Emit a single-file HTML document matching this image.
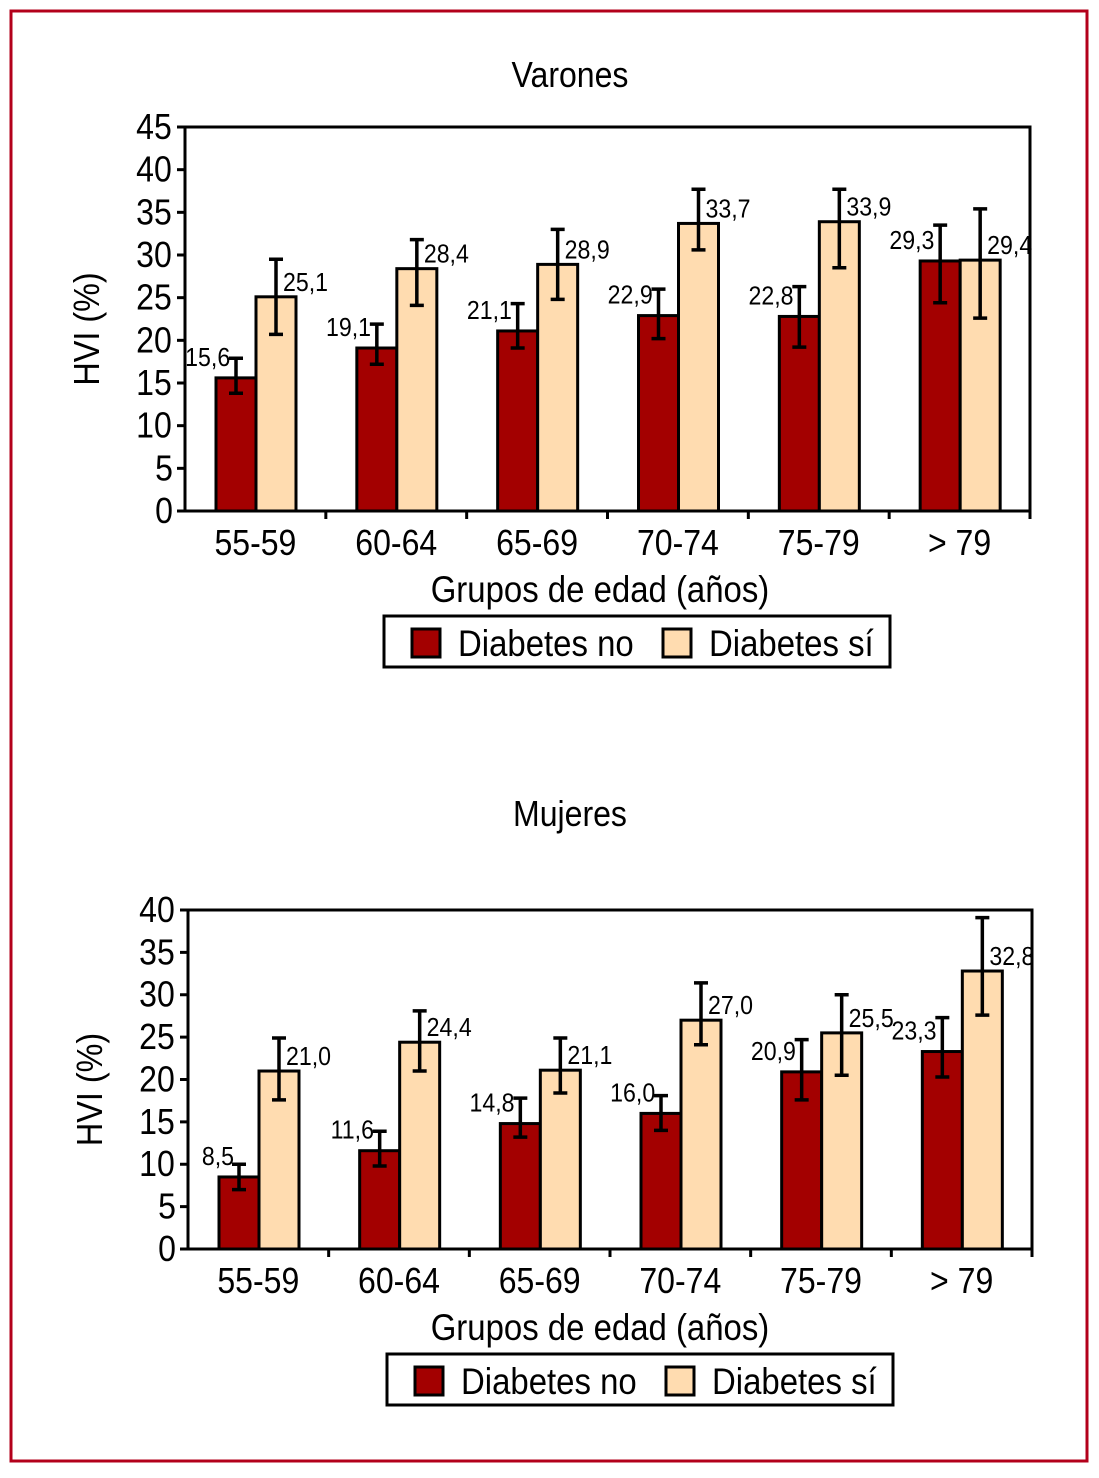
<!DOCTYPE html>
<html><head><meta charset="utf-8"><style>
html,body{margin:0;padding:0;background:#fff}
svg text{font-family:"Liberation Sans",sans-serif;fill:#000}
.c{transform-box:fill-box;transform-origin:center;transform:scaleX(0.89)}
.l{transform-box:fill-box;transform-origin:left center;transform:scaleX(0.89)}
</style></head><body>
<svg id="s" width="1099" height="1473" viewBox="0 0 1099 1473" xmlns="http://www.w3.org/2000/svg">
<rect x="11" y="11" width="1076" height="1450" fill="none" stroke="#b3001b" stroke-width="3"/>
</svg>
<script>
const categories=["55-59","60-64","65-69","70-74","75-79","> 79"];
const topNo=[15.6,19.1,21.1,22.9,22.8,29.3];
const topYes=[25.1,28.4,28.9,33.7,33.9,29.4];
const topNoLo=[13.8,17.2,19.1,20.2,19.2,24.4];
const topNoHi=[17.9,21.9,24.3,26.0,26.3,33.5];
const topYesLo=[20.7,24.1,24.8,30.6,28.5,22.6];
const topYesHi=[29.5,31.8,33.0,37.7,37.7,35.4];
const topTicks=[0,5,10,15,20,25,30,35,40,45];
const botNo=[8.5,11.6,14.8,16.0,20.9,23.3];
const botYes=[21.0,24.4,21.1,27.0,25.5,32.8];
const botNoLo=[7.0,9.8,13.2,14.0,17.6,20.3];
const botNoHi=[10.0,13.9,17.8,18.1,24.7,27.3];
const botYesLo=[17.6,21.0,18.4,24.1,20.5,27.6];
const botYesHi=[24.9,28.1,24.9,31.4,30.0,39.1];
const botTicks=[0,5,10,15,20,25,30,35,40];

const svg=document.getElementById('s');
const NS="http://www.w3.org/2000/svg";
function mk(tag,attrs,parent){const e=document.createElementNS(NS,tag);for(const k in attrs)e.setAttribute(k,attrs[k]);(parent||svg).appendChild(e);return e;}
function fmt(v){return v.toFixed(1).replace('.',',');}

function chart(o){
  const g=mk('g',{});
  
  
  const y=v=>o.y0-(v/o.max)*(o.y0-o.y1);
  const gw=(o.x1-o.x0)/categories.length;
  const t=mk('text',{x:570,y:o.titleY,'font-size':36,'text-anchor':'middle',class:'c'},g);t.textContent=o.title;
  
  categories.forEach((c,i)=>{
    const bx=o.x0+gw*i+31;
    const vals=[[o.no,o.noLo,o.noHi,'#a30000','no'],[o.yes,o.yesLo,o.yesHi,'#ffdcb0','yes']];
    vals.forEach((s,j)=>{
      const x=bx+j*40,v=s[0][i];
      const r=mk('rect',{x:x,y:y(v),width:40,height:o.y0-y(v),fill:s[3],stroke:'#000','stroke-width':3},g);
      
      
      const cx=x+20,lo=y(s[1][i]),hi=y(s[2][i]);
      const e=mk('path',{d:`M${cx},${lo}V${hi}M${cx-7},${lo}H${cx+7}M${cx-7},${hi}H${cx+7}`,stroke:'#000','stroke-width':3.5,fill:'none'},g);
      
      let lt;
      if(j===0){lt=mk('text',{x:cx-3,y:y(v)-12,'font-size':26,'text-anchor':'end',class:'c'},g);}
      else{lt=mk('text',{x:cx+7,y:y(v)-6,'font-size':26,'text-anchor':'start',class:'l'},g);}
      lt.textContent=fmt(v);
      
    });
    const ct=mk('text',{x:o.x0+gw*i+gw/2,y:o.y0+44,'font-size':36,'text-anchor':'middle',class:'c'},g);
    ct.textContent=c;
    const tk=mk('line',{x1:o.x0+gw*(i+1),x2:o.x0+gw*(i+1),y1:o.y0,y2:o.y0+8,stroke:'#000','stroke-width':3},g);
    
  });
  const fr=mk('rect',{x:o.x0,y:o.y1,width:o.x1-o.x0,height:o.y0-o.y1,fill:'none',stroke:'#000','stroke-width':3},g);
  
  o.ticks.forEach(v=>{
    const l=mk('line',{x1:o.x0-8,x2:o.x0,y1:y(v),y2:y(v),stroke:'#000','stroke-width':3},g);
    
    const tt=mk('text',{x:o.x0-11,y:y(v)+12,'font-size':36,'text-anchor':'end',class:'c'},g);
    tt.textContent=v;
  });
  const yt=mk('text',{x:0,y:0,'font-size':36,'text-anchor':'middle',transform:`translate(${o.x0-86},${(o.y0+o.y1)/2+10}) rotate(-90) scale(0.9,1)`},g);
  yt.textContent='HVI (%)';
  const xt=mk('text',{x:600,y:o.y0+91,'font-size':37,'text-anchor':'middle',class:'c'},g);
  xt.textContent='Grupos de edad (años)';
  const lg=mk('g',{},g);
  const ly=o.y0+105;
  mk('rect',{x:o.lx,y:ly,width:506,height:51,fill:'#fff',stroke:'#000','stroke-width':3},lg);
  const s1=mk('rect',{x:o.lx+28,y:ly+13,width:28,height:28,fill:'#a30000',stroke:'#000','stroke-width':3},lg);
  
  const t1=mk('text',{x:o.lx+74,y:ly+40,'font-size':37,class:'l'},lg);t1.textContent='Diabetes no';
  
  const s2=mk('rect',{x:o.lx+279,y:ly+13,width:28,height:28,fill:'#ffdcb0',stroke:'#000','stroke-width':3},lg);
  
  const t2=mk('text',{x:o.lx+325,y:ly+40,'font-size':37,class:'l'},lg);t2.textContent='Diabetes sí';
  
}
chart({name:'chart-varones',title:'Varones',titleY:87,x0:185,x1:1030,y0:511,y1:127,max:45,ticks:topTicks,
  no:topNo,yes:topYes,noLo:topNoLo,noHi:topNoHi,yesLo:topYesLo,yesHi:topYesHi,lx:384});
chart({name:'chart-mujeres',title:'Mujeres',titleY:826,x0:188,x1:1032,y0:1249,y1:910,max:40,ticks:botTicks,
  no:botNo,yes:botYes,noLo:botNoLo,noHi:botNoHi,yesLo:botYesLo,yesHi:botYesHi,lx:387});
</script>
</body></html>
